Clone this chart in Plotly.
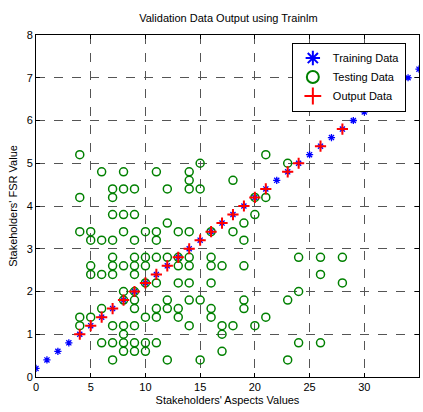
import plotly.graph_objects as go

# Training data (blue stars)
train_x = list(range(0, 36))
train_y = [0.2, 0.4, 0.6, 0.8, 1.0, 1.2, 1.4, 1.6, 1.8, 2.0, 2.2, 2.4, 2.6, 2.8, 3.0, 3.2,
           3.4, 3.6, 3.8, 4.0, 4.2, 4.4, 4.6, 4.8, 5.0, 5.2, 5.4, 5.6, 5.8, 6.0, 6.2, 6.4,
           6.6, 6.8, 7.0, 7.2]

# Output data (red plus)
out_x = [4, 5, 6, 7, 8, 9, 10, 11, 12, 13, 14, 15, 16, 17, 18, 19, 20, 21, 23, 24, 26, 28]
out_y = [1.0, 1.2, 1.4, 1.6, 1.8, 2.0, 2.2, 2.4, 2.6, 2.8, 3.0, 3.2, 3.4, 3.6, 3.8, 4.0,
         4.2, 4.4, 4.8, 5.0, 5.4, 5.8]

# Testing data (green circles)
test_x = [4, 4, 6, 8, 11, 7, 8, 9, 7, 12, 14, 14, 14, 15, 15, 18, 21, 23, 21, 20,
          7, 8, 9, 12, 4, 5, 8, 10, 11, 13, 14, 16, 18, 19, 20, 5, 6, 7, 9, 11, 19,
          7, 9, 10, 11, 12, 13, 14, 16, 24, 26, 28,
          5, 7, 8, 9, 10, 13, 14, 16, 17, 19,
          5, 6, 7, 9, 26,
          10, 11, 13, 14, 16, 28,
          8, 9, 24,
          8, 9, 12, 14, 15, 19, 23,
          6, 9, 11, 12, 13, 16, 19,
          4, 5, 10, 11, 13, 16, 21,
          4, 7, 8, 9, 14, 17, 18, 20,
          8, 17,
          6, 7, 8, 9, 10, 11, 24, 26,
          8, 9, 10, 17,
          7, 12, 15, 23]
test_y = [5.2, 4.2, 4.8, 4.8, 4.8, 4.4, 4.4, 4.4, 4.2, 4.4, 4.8, 4.6, 4.4, 5.0, 4.4, 4.6, 5.2, 5.0, 4.2, 4.2,
          3.8, 3.8, 3.8, 3.6, 3.4, 3.4, 3.4, 3.4, 3.4, 3.4, 3.4, 3.4, 3.4, 3.6, 3.8, 3.2, 3.2, 3.2, 3.2, 3.2, 3.2,
          2.8, 2.8, 2.8, 2.8, 2.8, 2.8, 2.8, 2.8, 2.8, 2.8, 2.8,
          2.6, 2.6, 2.6, 2.6, 2.6, 2.6, 2.6, 2.6, 2.6, 2.6,
          2.4, 2.4, 2.4, 2.4, 2.4,
          2.2, 2.2, 2.2, 2.2, 2.2, 2.2,
          2.0, 2.0, 2.0,
          1.8, 1.8, 1.8, 1.8, 1.8, 1.8, 1.8,
          1.6, 1.6, 1.6, 1.6, 1.6, 1.6, 1.6,
          1.4, 1.4, 1.4, 1.4, 1.4, 1.4, 1.4,
          1.2, 1.2, 1.2, 1.2, 1.2, 1.2, 1.2, 1.2,
          1.0, 1.0,
          0.8, 0.8, 0.8, 0.8, 0.8, 0.8, 0.8, 0.8,
          0.6, 0.6, 0.6, 0.6,
          0.4, 0.4, 0.4, 0.4]

x_ticks = [0, 5, 10, 15, 20, 25, 30, 35]
y_ticks = [0, 1, 2, 3, 4, 5, 6, 7, 8]

FONT = "Liberation Sans, Arial, sans-serif"

fig = go.Figure()
fig.add_trace(go.Scatter(
    x=train_x, y=train_y, mode="markers", name="Training Data",
    marker=dict(symbol="asterisk-open", size=6, color="#0000ff",
                line=dict(color="#0000ff", width=1.3)),
))
fig.add_trace(go.Scatter(
    x=test_x, y=test_y, mode="markers", name="Testing Data",
    marker=dict(symbol="circle-open", size=8, color="#008000",
                line=dict(color="#008000", width=1.5)),
))
fig.add_trace(go.Scatter(
    x=out_x, y=out_y, mode="markers", name="Output Data",
    marker=dict(symbol="cross-thin-open", size=8, color="#ff0000",
                line=dict(color="#ff0000", width=2)),
))

axis_common = dict(
    showline=True, linecolor="black", linewidth=1, mirror="ticks",
    ticks="inside", ticklen=4, tickcolor="black",
    showgrid=True, gridcolor="#555555", griddash="dash", gridwidth=1,
    zeroline=False, tickfont=dict(family=FONT, size=11, color="black"),
)

fig.update_xaxes(range=[0, 35], tickvals=x_ticks, **axis_common,
                 title=dict(text="Stakeholders' Aspects Values",
                            font=dict(family=FONT, size=11, color="black"), standoff=4))
fig.update_yaxes(range=[0, 8], tickvals=y_ticks, **axis_common,
                 title=dict(text="Stakeholders' FSR Value",
                            font=dict(family=FONT, size=11, color="black"), standoff=6))

fig.update_layout(
    width=423, height=412,
    margin=dict(l=36, r=4, t=35, b=35),
    paper_bgcolor="white", plot_bgcolor="white",
    title=dict(text="Validation Data Output using Trainlm", x=0.54, xanchor="center",
               y=0.955, yanchor="middle",
               font=dict(family=FONT, size=11, color="black")),
    legend=dict(x=0.668, y=0.978, xanchor="left", yanchor="top",
                bgcolor="white", bordercolor="black", borderwidth=1,
                font=dict(family=FONT, size=11, color="black"),
                itemsizing="constant", tracegroupgap=0),
    showlegend=True,
)

fig.write_html("out.html")
